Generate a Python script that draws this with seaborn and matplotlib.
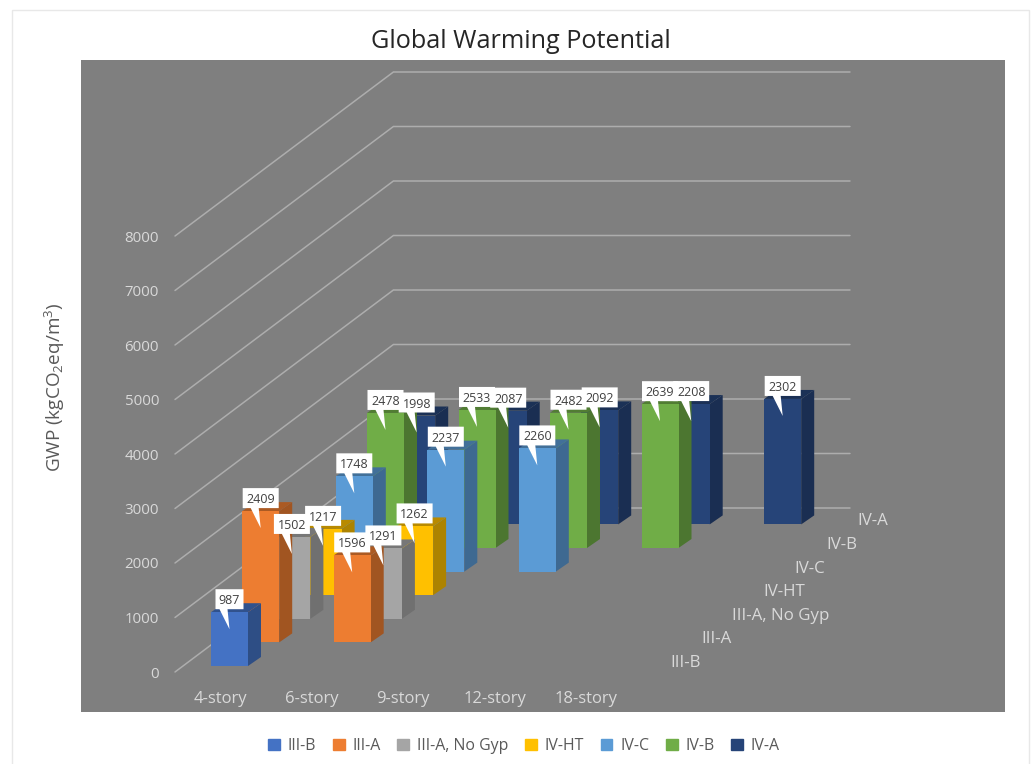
import numpy as np
import pandas as pd
import matplotlib
matplotlib.use("Agg")
import matplotlib.pyplot as plt
from matplotlib.colors import to_rgb
from matplotlib.patches import Patch, Rectangle
import seaborn as sns

# Building heights and structural systems
stories = ["4-story", "6-story", "9-story", "12-story", "18-story"]
systems = ["III-B", "III-A", "III-A, No Gyp", "IV-HT", "IV-C", "IV-B", "IV-A"]

# GWP per system, one value for each permitted height
gwp_iii_b = [987]
gwp_iii_a = [2409, 1596]
gwp_iii_a_no_gyp = [1502, 1291]
gwp_iv_ht = [1217, 1262]
gwp_iv_c = [1748, 2237, 2260]
gwp_iv_b = [2478, 2533, 2482, 2639]
gwp_iv_a = [1998, 2087, 2092, 2208, 2302]
series_values = [gwp_iii_b, gwp_iii_a, gwp_iii_a_no_gyp, gwp_iv_ht,
                 gwp_iv_c, gwp_iv_b, gwp_iv_a]

front_colors = ["#4472C4", "#ED7D31", "#A5A5A5", "#FFC000",
                "#5B9BD5", "#70AD47", "#264478"]
value_ticks = list(range(0, 9000, 1000))

sns.set_theme(style="white")
plt.rcParams["font.family"] = ["Open Sans", "DejaVu Sans"]
plt.rcParams["mathtext.default"] = "regular"

W, H, DPI = 1036, 764, 100
PT = 72 / DPI
fig = plt.figure(figsize=(W / DPI, H / DPI), dpi=DPI, facecolor="white")

# Plot area rectangle, in figure pixels
L, R, T, B = 81, 1005, 60, 712
ax = fig.add_axes([L / W, 1 - B / H, (R - L) / W, (B - T) / H], facecolor="#7F7F7F")

# Scale of the data axes: one height step and one GWP unit in pixels
PX_X = 91.5
PX_Y = 0.0545
X0_PX, Y0_PX = 229.5, 672
XLIM = ((L - X0_PX) / PX_X, (R - X0_PX) / PX_X)
YLIM = ((Y0_PX - B) / PX_Y, (Y0_PX - T) / PX_Y)

# Oblique projection: every system sits one depth step behind the previous one
DEPTH_X = 31.2 / PX_X
DEPTH_Y = 23.6 / PX_Y
FLOOR_Y = 6 / PX_Y
BAR_W = 37 / PX_X
SIDE_X = 13 / PX_X
SIDE_Y = 9 / PX_Y


def shade(color, factor):
    return tuple(c * factor for c in to_rgb(color))


# Walls and floor gridlines
back_x = -(229.5 - 175) / PX_X + len(systems) * DEPTH_X
for v in value_ticks:
    ax.plot([-(229.5 - 175) / PX_X, back_x, (850 - X0_PX) / PX_X],
            [v, v + 164 / PX_Y, v + 164 / PX_Y],
            color="#ADADAD", lw=1.1, zorder=1, solid_joinstyle="miter")

# Bars, from the back row to the front row
records = pd.DataFrame([
    {"system": s, "row": i, "story": j, "value": v}
    for i, (s, vals) in enumerate(zip(systems, series_values))
    for j, v in enumerate(vals)
])
records["pos"] = records["story"] + records["row"] * DEPTH_X

for i in reversed(range(len(systems))):
    sub = records[records["row"] == i]
    base = FLOOR_Y + i * DEPTH_Y
    z = 10 + (len(systems) - i)
    sns.barplot(data=sub, x="pos", y="value", native_scale=True, errorbar=None,
                color=front_colors[i], saturation=1, width=BAR_W, linewidth=0,
                bottom=base, zorder=z + 0.5, ax=ax)
    for xc, v in zip(sub["pos"], sub["value"]):
        xl, xr = xc - BAR_W / 2, xc + BAR_W / 2
        top = base + v
        ax.fill([xr, xr + SIDE_X, xr + SIDE_X, xr],
                [base, base + SIDE_Y, top + SIDE_Y, top],
                color=shade(front_colors[i], 0.68), lw=0, zorder=z)
        ax.fill([xl, xl + SIDE_X, xr + SIDE_X, xr],
                [top, top + SIDE_Y, top + SIDE_Y, top],
                color=shade(front_colors[i], 0.72), lw=0, zorder=z)

# Value callouts above each bar; all numbers sit above all the boxes
for i, row in records.iterrows():
    base = FLOOR_Y + row["row"] * DEPTH_Y
    cx = row["pos"]
    cy = base + row["value"] + 13 / PX_Y
    text = str(row["value"])
    half_w = (18 if len(text) == 4 else 14) / PX_X
    half_h = 10 / PX_Y
    tip_y = cy - 30 / PX_Y
    xs = [cx - half_w, cx + half_w, cx + half_w, cx - 2 / PX_X, cx, cx - 10 / PX_X, cx - half_w]
    ys = [cy + half_h, cy + half_h, cy - half_h, cy - half_h, tip_y, cy - half_h, cy - half_h]
    ax.fill(xs, ys, color="white", lw=0, zorder=40 + i)
    ax.text(cx, cy, text, ha="center", va="center_baseline", fontsize=9.0,
            color="#404040", zorder=100)

# Depth axis labels along the floor's right side
for i, name in enumerate(systems):
    ax.text((670 - X0_PX) / PX_X + i * DEPTH_X, 9 / PX_Y + i * DEPTH_Y, name,
            ha="left", va="center", fontsize=12.2, color="#D9D9D9", zorder=5)

ax.set_xlim(XLIM)
ax.set_ylim(YLIM)
ax.set_xlabel("")
ax.set_ylabel("")
ax.set_xticks(np.arange(len(stories)) - 0.1, stories)
ax.set_yticks(value_ticks, [str(v) for v in value_ticks])
ax.tick_params(axis="y", length=0, pad=-(159 - L) * PT, labelsize=10.8, labelcolor="#D9D9D9")
ax.tick_params(axis="x", length=0, pad=-21 * PT, labelsize=12, labelcolor="#D9D9D9")
for label in ax.get_xticklabels() + ax.get_yticklabels():
    label.set_zorder(5)
ax.set_axisbelow(False)
sns.despine(ax=ax, left=True, bottom=True)

# Title, value axis name and outer chart frame
fig.text(521 / W, 1 - 41 / H, "Global Warming Potential", ha="center", va="center",
         fontsize=18.2, color="#262626")
fig.text(55 / W, 1 - 387 / H, r"GWP (kgCO$_2$eq/m$^3$)", rotation=90, ha="center",
         va="center", fontsize=13.6, color="#595959")
fig.add_artist(Rectangle((12 / W, -0.01), (1029 - 12) / W, 1 - 10 / H + 0.01,
                         transform=fig.transFigure, fill=False,
                         edgecolor="#E8E8E8", lw=1))

handles = [Patch(color=c, label=s) for c, s in zip(front_colors, systems)]
ax.legend(handles=handles, ncol=7, loc="center",
          bbox_to_anchor=(524 / W, 1 - 746 / H), bbox_transform=fig.transFigure,
          frameon=False, handlelength=0.74, handleheight=0.74, columnspacing=1.05,
          handletextpad=0.5, fontsize=11.4, labelcolor="#595959")

fig.savefig("out.png", dpi=DPI)
